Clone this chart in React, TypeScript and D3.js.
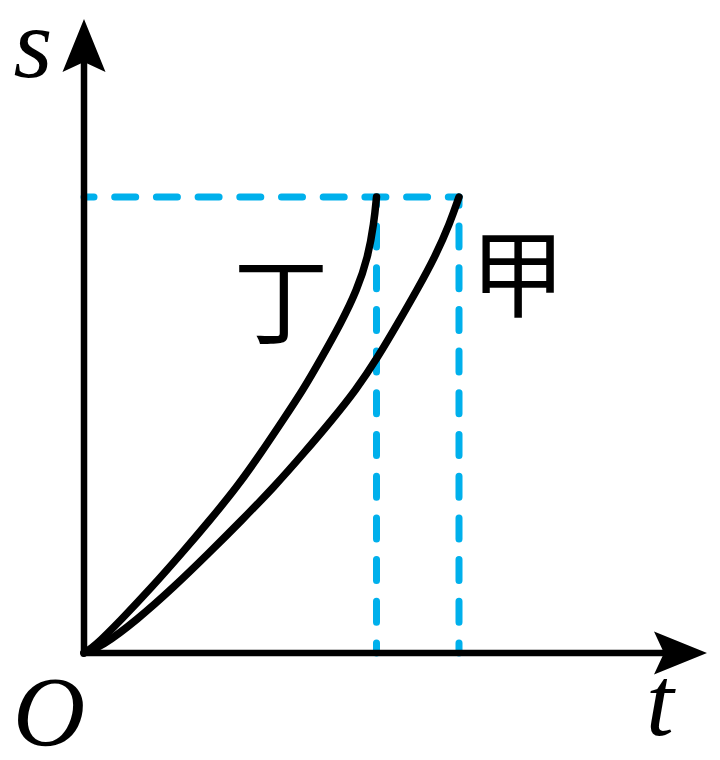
import React from 'react';
import * as d3 from 'd3';

// axis extents (arrow tips), in data units
const tMax = 62.3;
const sMax = 63.4;

// curve 丁 (t, s)
const dingT = [0, 1.0, 3.7, 6.8, 9.8, 12.6, 15.3, 17.7, 19.9, 21.9, 23.8, 25.7, 27.3, 28.4, 29.0, 29.25];
const dingS = [0, 0.6, 3.3, 6.6, 10.0, 13.3, 16.6, 20.0, 23.3, 26.3, 29.6, 33.0, 36.3, 39.6, 43.0, 45.6];

// curve 甲 (t, s)
const jiaT = [0, 1.7, 5.3, 9.0, 12.5, 15.8, 19.0, 22.0, 24.8, 27.2, 29.4, 31.4, 33.3, 35.1, 36.6, 37.5];
const jiaS = [0, 0.6, 3.3, 6.6, 10.0, 13.3, 16.6, 20.0, 23.3, 26.3, 29.6, 33.0, 36.3, 39.6, 43.0, 45.6];

// guide lines
const guideS = 45.6;
const guideT = [29.25, 37.5];

const labels = { s: 's', t: 't', o: 'O', ding: '丁', jia: '甲' };

const W = 720;
const H = 760;

export default function App() {
  const x = d3.scaleLinear().domain([0, tMax]).range([84, 707]);
  const y = d3.scaleLinear().domain([0, sMax]).range([653, 19]);

  const line = d3
    .line<[number, number]>()
    .x(d => x(d[0]))
    .y(d => y(d[1]))
    .curve(d3.curveBasis);

  const ding = dingT.map((t, i) => [t, dingS[i]] as [number, number]);
  const jia = jiaT.map((t, i) => [t, jiaS[i]] as [number, number]);

  const x0 = x(0);
  const y0 = y(0);
  const xt = x(tMax);
  const yt = y(sMax);
  const headLen = 53;
  const headHalf = 21.5;
  const notch = 10;

  const blue = '#00b0ec';
  const dash = { stroke: blue, strokeWidth: 7, strokeDasharray: '21 20.7', strokeDashoffset: 11, strokeLinecap: 'round' as const, fill: 'none' };

  const serif = '"Liberation Serif", "Times New Roman", serif';
  const cjk = '"Noto Sans CJK SC", sans-serif';

  return (
    <svg width={W} height={H} style={{ position: 'absolute', left: 0, top: 0, background: '#fff' }}>
      {/* dashed guides */}
      <path d={`M${x0},${y(guideS)}H${x(guideT[1])}`} {...dash} />
      {guideT.map((t, i) => (
        <path key={i} d={`M${x(t)},${y0}V${y(guideS)}`} {...dash} />
      ))}

      {/* axes */}
      <path
        d={`M${x0},${yt + headLen - notch}V${y0}H${xt - headLen + notch}`}
        fill="none"
        stroke="#000"
        strokeWidth={6.5}
        strokeLinejoin="miter"
      />
      <path
        d={`M${x0},${yt}L${x0 - headHalf},${yt + headLen}L${x0},${yt + headLen - notch}L${x0 + headHalf},${yt + headLen}Z`}
        fill="#000"
      />
      <path
        d={`M${xt},${y0}L${xt - headLen},${y0 - headHalf}L${xt - headLen + notch},${y0}L${xt - headLen},${y0 + headHalf}Z`}
        fill="#000"
      />

      {/* curves */}
      <path d={line(ding) || ''} fill="none" stroke="#000" strokeWidth={7.5} strokeLinecap="round" />
      <path d={line(jia) || ''} fill="none" stroke="#000" strokeWidth={7.5} strokeLinecap="round" />

      {/* labels */}
      <text x={33} y={77} fontFamily={serif} fontStyle="italic" fontSize={100} textAnchor="middle">{labels.s}</text>
      <text x={49} y={745} fontFamily={serif} fontStyle="italic" fontSize={100} textAnchor="middle">{labels.o}</text>
      <text x={660} y={735} fontFamily={serif} fontStyle="italic" fontSize={100} textAnchor="middle">{labels.t}</text>
      <text x={281} y={295} fontFamily={cjk} fontSize={95} textAnchor="middle" dominantBaseline="central">{labels.ding}</text>
      <text x={518} y={268} fontFamily={cjk} fontSize={95} textAnchor="middle" dominantBaseline="central">{labels.jia}</text>
    </svg>
  );
}
